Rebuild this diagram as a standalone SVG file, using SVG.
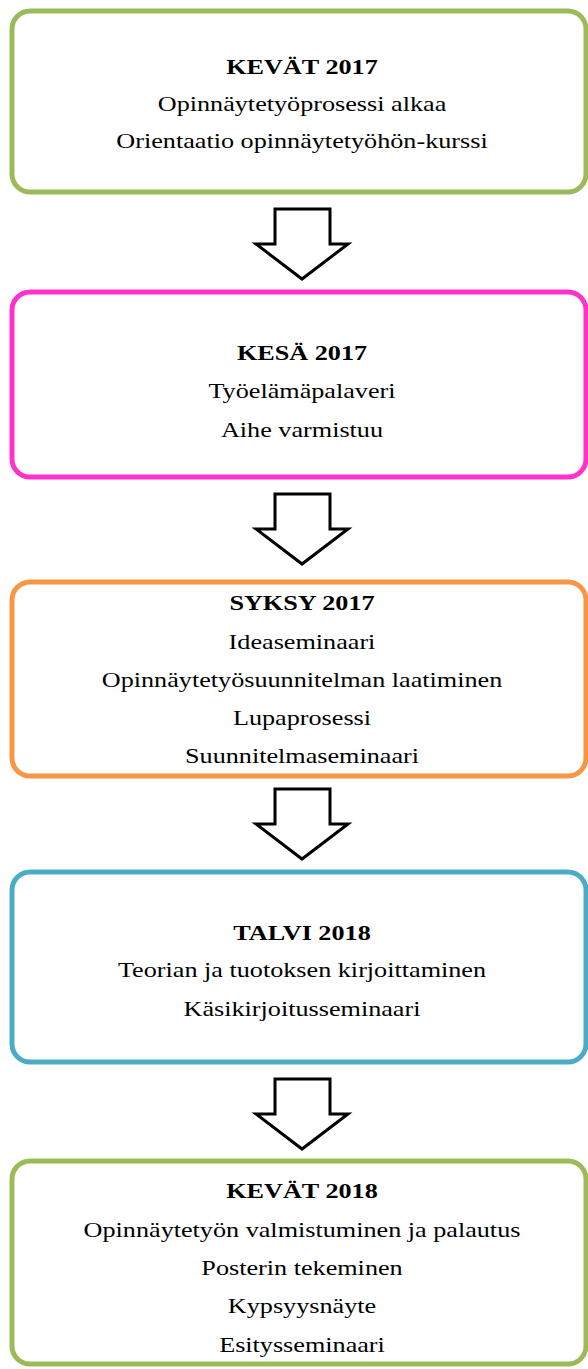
<svg xmlns="http://www.w3.org/2000/svg" width="588" height="1369" viewBox="0 0 588 1369">
<style>
.box{fill:#fff;stroke-width:5}
.arr{fill:#fff;stroke:#000;stroke-width:3;stroke-linejoin:miter}
text{font-family:"Liberation Serif","Times New Roman",serif;font-size:22px;fill:#000;text-anchor:middle}
.h{font-weight:bold}
</style>
<rect width="588" height="1369" fill="#fff"/>
<g id="connectors">
<path class="arr" d="M275,209 H330 V244 H348 L302,279 L256,244 H275 Z"/>
<path class="arr" d="M275,494 H330 V529 H348 L302,564 L256,529 H275 Z"/>
<path class="arr" d="M275,789 H330 V824 H348 L302,859 L256,824 H275 Z"/>
<path class="arr" d="M275,1079 H330 V1114 H348 L302,1149 L256,1114 H275 Z"/>
</g>
<g id="n1">
<rect class="box" x="12" y="11" width="574" height="181" rx="18" stroke="#9BBB59"/>
<g transform="translate(302,0) scale(1.19,1)">
<text class="h" x="0" y="74">KEVÄT 2017</text>
<text x="0" y="111">Opinnäytetyöprosessi alkaa</text>
<text x="0" y="148">Orientaatio opinnäytetyöhön-kurssi</text>
</g>
</g>
<g id="n2">
<rect class="box" x="12" y="292" width="574" height="185" rx="18" stroke="#FF33CC"/>
<g transform="translate(302,0) scale(1.19,1)">
<text class="h" x="0" y="360">KESÄ 2017</text>
<text x="0" y="398">Työelämäpalaveri</text>
<text x="0" y="437">Aihe varmistuu</text>
</g>
</g>
<g id="n3">
<rect class="box" x="12" y="582" width="574" height="194" rx="18" stroke="#F79646"/>
<g transform="translate(302,0) scale(1.19,1)">
<text class="h" x="0" y="610">SYKSY 2017</text>
<text x="0" y="649">Ideaseminaari</text>
<text x="0" y="687">Opinnäytetyösuunnitelman laatiminen</text>
<text x="0" y="725">Lupaprosessi</text>
<text x="0" y="763">Suunnitelmaseminaari</text>
</g>
</g>
<g id="n4">
<rect class="box" x="12" y="872" width="574" height="190" rx="18" stroke="#4BACC6"/>
<g transform="translate(302,0) scale(1.19,1)">
<text class="h" x="0" y="940">TALVI 2018</text>
<text x="0" y="977">Teorian ja tuotoksen kirjoittaminen</text>
<text x="0" y="1016">Käsikirjoitusseminaari</text>
</g>
</g>
<g id="n5">
<rect class="box" x="12" y="1161" width="574" height="203" rx="18" stroke="#9BBB59"/>
<g transform="translate(302,0) scale(1.19,1)">
<text class="h" x="0" y="1198">KEVÄT 2018</text>
<text x="0" y="1237">Opinnäytetyön valmistuminen ja palautus</text>
<text x="0" y="1275">Posterin tekeminen</text>
<text x="0" y="1313">Kypsyysnäyte</text>
<text x="0" y="1352">Esitysseminaari</text>
</g>
</g>
</svg>
